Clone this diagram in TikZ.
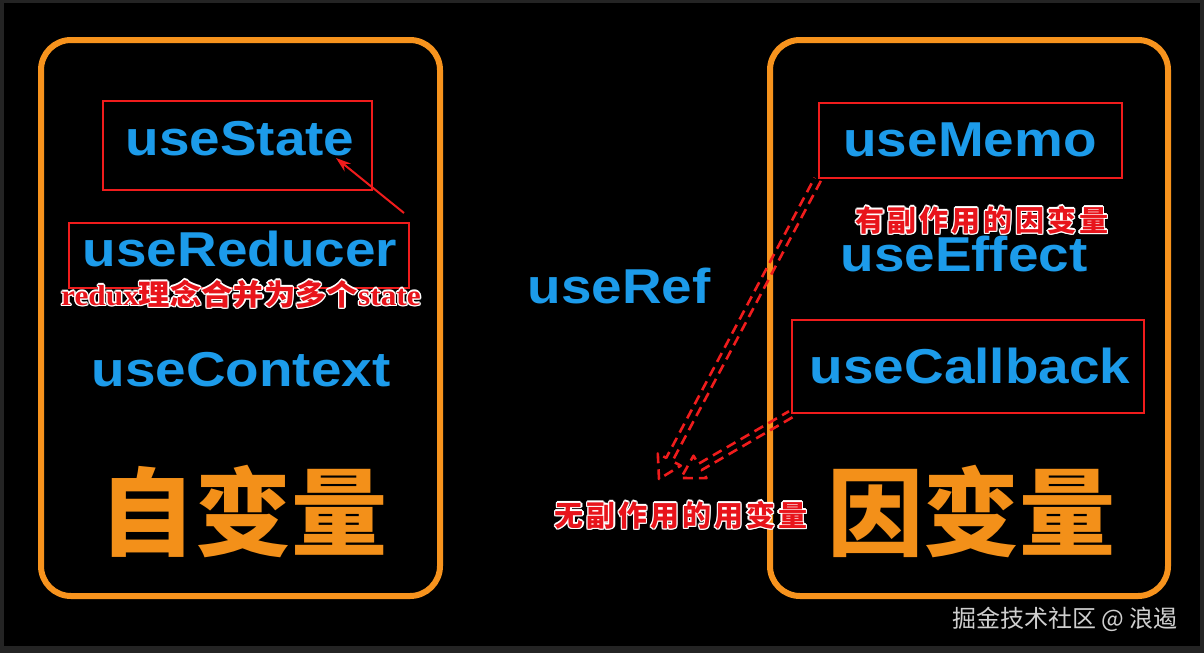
\documentclass[tikz,border=0pt]{standalone}
\usepackage{fontspec}
\usepackage{graphicx}
\setmainfont{Liberation Sans}
\newfontfamily\cjk{Noto Sans CJK SC}
\newfontfamily\notefont{Noto Sans CJK SC}[LetterSpace=10]
\newfontfamily\serifb{Liberation Serif}
\usetikzlibrary{arrows.meta,calc}
\definecolor{framegray}{HTML}{242424}
\definecolor{orng}{HTML}{F7931D}
\definecolor{bigorng}{HTML}{F39019}
\definecolor{hookblue}{HTML}{1C9BEA}
\definecolor{boxred}{HTML}{F01C1C}
\definecolor{notered}{HTML}{E8141B}
\definecolor{wmgray}{HTML}{CFCFCF}
\newcommand\halotext[1]{\leavevmode
  \rlap{\textcolor{white}{\hspace*{1.3pt}#1}}%
  \rlap{\textcolor{white}{\hspace*{-1.3pt}#1}}%
  \rlap{\textcolor{white}{\raisebox{1.3pt}{#1}}}%
  \rlap{\textcolor{white}{\raisebox{-1.3pt}{#1}}}%
  \rlap{\textcolor{white}{\hspace*{0.9pt}\raisebox{0.9pt}{#1}}}%
  \rlap{\textcolor{white}{\hspace*{-0.9pt}\raisebox{0.9pt}{#1}}}%
  \rlap{\textcolor{white}{\hspace*{0.9pt}\raisebox{-0.9pt}{#1}}}%
  \rlap{\textcolor{white}{\hspace*{-0.9pt}\raisebox{-0.9pt}{#1}}}%
  \textcolor{notered}{#1}}
\newcommand\hk[1]{\scalebox{1.12}[1]{#1}}
\begin{document}
\begin{tikzpicture}[x=1pt,y=1pt,
  hook/.style={text=hookblue, font=\bfseries\fontsize{49}{49}\selectfont, anchor=base, inner sep=0pt},
  obox/.style={draw=orng, line width=6pt, rounded corners=30pt, inner sep=0pt},
  rbox/.style={draw=boxred, line width=2.5pt, inner sep=0pt},
  big/.style={text=bigorng, font=\cjk\bfseries\fontsize{96}{96}\selectfont, inner sep=0pt},
  note/.style={font=\notefont\bfseries\fontsize{29}{29}\selectfont, inner sep=0pt},
  notetwo/.style={font=\cjk\bfseries\fontsize{29}{29}\selectfont, inner sep=0pt},
  wm/.style={text=wmgray, font=\cjk\fontsize{24}{24}\selectfont, inner sep=0pt},
  hollow/.style={draw=boxred, line width=2.6pt, dash pattern=on 10pt off 6pt, line join=round}
]
\useasboundingbox (0,0) rectangle (1204,-653);
\fill[framegray] (0,0) rectangle (1204,-653);
\fill[black] (4,-3) rectangle (1200,-646);

% orange frames
\node[obox, minimum width=399pt, minimum height=556pt] (leftFrame) at (240.5,-318) {};
\node[obox, minimum width=398pt, minimum height=556pt] (rightFrame) at (969,-318) {};

% red boxes
\node[rbox, minimum width=269pt, minimum height=89pt] (stateBox) at (237.5,-145.5) {};
\node[rbox, minimum width=340pt, minimum height=65pt] (reducerBox) at (239,-255.5) {};
\node[rbox, minimum width=303pt, minimum height=75pt] (memoBox) at (970.5,-140.5) {};
\node[rbox, minimum width=352pt, minimum height=93pt] (callBox) at (968,-366.5) {};

% hooks
\node[hook] (useState) at (240,-155) {\hk{useState}};
\node[hook] (useReducer) at (240,-266) {\hk{useReducer}};
\node[hook] (useContext) at (241,-386) {\hk{useContext}};
\node[hook] (useRef) at (619,-303) {\hk{useRef}};
\node[hook] (useMemo) at (970,-156) {\hk{useMemo}};
\node[hook] (useEffect) at (964,-271) {\hk{useEffect}};
\node[hook] (useCallback) at (970,-383) {\hk{useCallback}};

% big labels
\node[big] (ziBianLiang) at (243,-511) {自变量};
\node[big] (yinBianLiang) at (971,-511) {因变量};

% solid red arrow
\coordinate (arrStart) at (404,-213);
\coordinate (arrEnd) at (336,-158);
\draw[boxred, line width=2pt, -{Stealth[length=15pt,width=10pt]}] (arrStart) -- (arrEnd);

% hollow dashed arrows
\coordinate (memoTip) at (659,-479);
\coordinate (callTip) at (681,-478);
\foreach \s/\t in {memoBox.south west/memoTip, callBox.south west/callTip}{
  \draw[hollow]
    ($(\s)!3.5pt!90:(\t)$) --
    ($($(\t)!22pt!(\s)$)!3.5pt!90:(\t)$) --
    ($($(\t)!22pt!(\s)$)!13pt!90:(\t)$) --
    (\t) --
    ($($(\t)!22pt!(\s)$)!13pt!-90:(\t)$) --
    ($($(\t)!22pt!(\s)$)!3.5pt!-90:(\t)$) --
    ($(\s)!3.5pt!-90:(\t)$);
}

% annotations
\node[notetwo] (noteRedux) at (241,-294) {\scalebox{1.08}[1]{\halotext{{\serifb\bfseries redux}理念合并为多个{\serifb\bfseries state}}}};
\node[note] (noteEffect) at (982,-220) {\halotext{有副作用的因变量}};
\node[note] (noteNoEffect) at (681,-515) {\halotext{无副作用的用变量}};

% watermark
\node[wm] (watermark) at (1065,-619) {掘金技术社区 @ 浪遏};
\end{tikzpicture}
\end{document}
